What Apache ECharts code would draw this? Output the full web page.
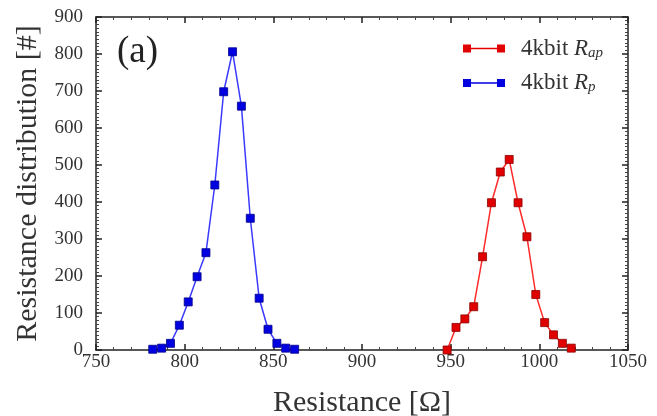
<!DOCTYPE html>
<html>
<head>
<meta charset="utf-8">
<script src="https://cdn.jsdelivr.net/npm/echarts@6/dist/echarts.min.js"></script>
<style>
  html, body { margin: 0; padding: 0; background: #fff; }
  #chart { width: 657px; height: 416px; }
</style>
</head>
<body>
<div id="chart"></div>
<script>
// Resistance bins [Ω] and counts for each state
const rpResistance  = [782, 787, 792, 797, 802, 807, 812, 817, 822, 827, 832, 837, 842, 847, 852, 857, 862];
const rpCounts      = [2, 5, 18, 67, 130, 198, 263, 446, 698, 806, 659, 356, 140, 56, 18, 5, 2];
const rapResistance = [948, 953, 958, 963, 968, 973, 978, 983, 988, 993, 998, 1003, 1008, 1013, 1018];
const rapCounts     = [0, 61, 84, 117, 252, 398, 481, 515, 398, 306, 150, 74, 41, 18, 5];

const xTicks = [750, 800, 850, 900, 950, 1000, 1050];
const yTicks = [0, 100, 200, 300, 400, 500, 600, 700, 800, 900];

const SERIF = '"Liberation Serif", "DejaVu Serif", serif';
const TEXT = '#333';
const RED = '#e00000';
const BLUE = '#0000e0';

const pairs = (xs, ys) => xs.map((x, i) => [x, ys[i]]);

const chart = echarts.init(document.getElementById('chart'));

// Axis line plus inward major/minor ticks, used on all four sides of the frame
const frameAxis = (extra, minorSplit) => Object.assign({
  axisLine: { show: true, onZero: false, lineStyle: { color: '#222', width: 1.5 } },
  axisTick: { show: true, inside: true, length: 6, lineStyle: { color: '#222', width: 1.5 } },
  minorTick: { show: true, splitNumber: minorSplit, length: 3, lineStyle: { color: '#444', width: 1 } },
  splitLine: { show: false }
}, extra);

const legendIcon = 'path://M0,0h8v8h-8z M34,0h8v8h-8z M8,3.3h26v1.4h-26z';

chart.setOption({
  animation: false,
  backgroundColor: '#fff',
  title: {
    text: '(a)',
    left: 112,
    top: 29,
    textStyle: { fontFamily: SERIF, fontSize: 37, fontWeight: 'normal', color: '#222' }
  },
  grid: { left: 96, right: 29, top: 17, bottom: 66, outerBoundsMode: 'none', containLabel: false },
  legend: {
    left: 458,
    top: 32,
    orient: 'vertical',
    itemGap: 11,
    itemWidth: 42,
    itemHeight: 8,
    itemStyle: { borderWidth: 0 },
    data: [
      { name: 'Rap', icon: legendIcon },
      { name: 'Rp', icon: legendIcon }
    ],
    formatter: (name) => name === 'Rap' ? '4kbit {i|R}{s|ap}' : '4kbit {i|R}{s|p}',
    textStyle: {
      fontFamily: SERIF, fontSize: 23, color: TEXT, padding: [0, 0, 0, 11],
      rich: {
        i: { fontFamily: SERIF, fontStyle: 'italic', fontSize: 23, color: TEXT },
        s: { fontFamily: SERIF, fontStyle: 'italic', fontSize: 15, color: TEXT, verticalAlign: 'bottom', padding: [9, 0, 0, 0] }
      }
    }
  },
  xAxis: [
    frameAxis({
      type: 'value', min: xTicks[0], max: xTicks[xTicks.length - 1], interval: 50,
      axisLabel: { fontFamily: SERIF, fontSize: 19, color: TEXT, margin: 3, formatter: (v) => String(v) },
      name: 'Resistance [Ω]',
      nameLocation: 'middle',
      nameGap: 38,
      nameTextStyle: { fontFamily: SERIF, fontSize: 30, color: TEXT }
    }, 5),
    frameAxis({
      type: 'value', position: 'top', min: xTicks[0], max: xTicks[xTicks.length - 1], interval: 50,
      axisLabel: { show: false }
    }, 5)
  ],
  yAxis: [
    frameAxis({
      type: 'value', min: yTicks[0], max: yTicks[yTicks.length - 1], interval: 100,
      axisLabel: { fontFamily: SERIF, fontSize: 19, color: TEXT, margin: 13 },
      name: 'Resistance distribution [#]',
      nameLocation: 'middle',
      nameGap: 46,
      nameTextStyle: { fontFamily: SERIF, fontSize: 30, color: TEXT }
    }, 10),
    frameAxis({
      type: 'value', position: 'right', min: yTicks[0], max: yTicks[yTicks.length - 1], interval: 100,
      axisLabel: { show: false }
    }, 10)
  ],
  series: [
    {
      name: 'Rap',
      type: 'line',
      data: pairs(rapResistance, rapCounts),
      symbol: 'rect',
      symbolSize: 8,
      itemStyle: { color: RED, borderColor: '#8a0000', borderWidth: 0.8 },
      lineStyle: { color: '#ff2a2a', width: 1.5 },
      z: 3
    },
    {
      name: 'Rp',
      type: 'line',
      data: pairs(rpResistance, rpCounts),
      symbol: 'rect',
      symbolSize: 8,
      itemStyle: { color: BLUE, borderColor: '#00008a', borderWidth: 0.8 },
      lineStyle: { color: '#3a3aff', width: 1.5 },
      z: 3
    }
  ]
});
</script>
</body>
</html>
